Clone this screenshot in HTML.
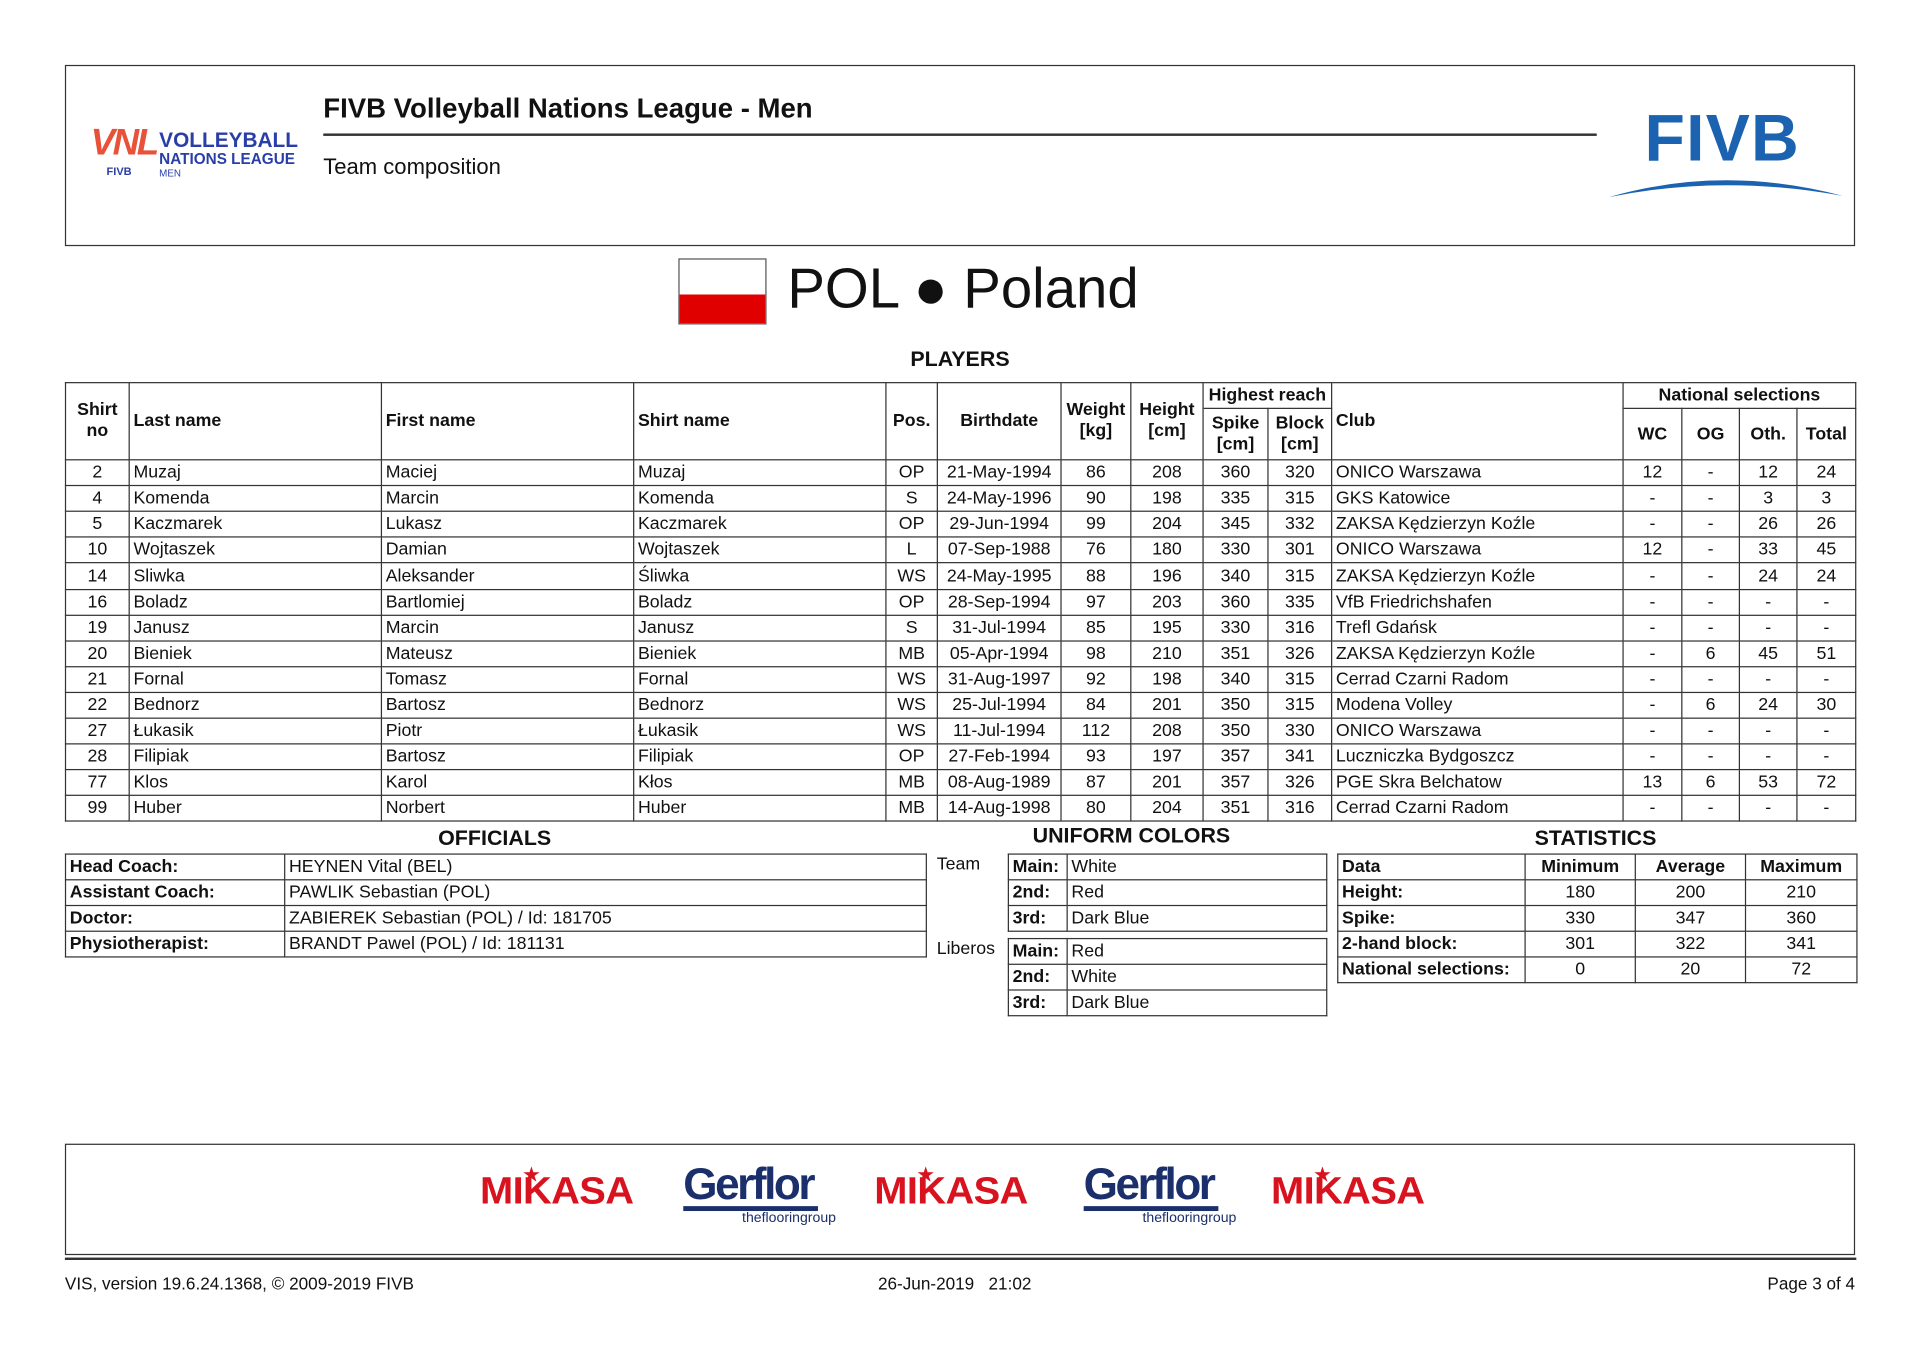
<!DOCTYPE html>
<html><head><meta charset="utf-8">
<style>
html,body{margin:0;padding:0;background:#fff;}
body{width:1920px;height:1357px;overflow:hidden;position:relative;}
#w{position:absolute;left:0;top:0;width:1568px;height:1108px;transform:scale(1.22449);transform-origin:0 0;font-family:"Liberation Sans","Noto Sans CJK SC",sans-serif;color:#111;}
.a{position:absolute;}
table{border-collapse:collapse;position:absolute;table-layout:fixed;font-size:14.5px;}
td{border:1px solid #333;padding:0 3px;height:20.1px;white-space:nowrap;overflow:hidden;line-height:20px;}
.c{text-align:center;} .r{text-align:right;} .b{font-weight:bold;}
.h{font-weight:bold;font-size:17.5px;text-align:center;}
.mk{color:#d8121f;font-weight:900;font-size:31px;font-family:"Liberation Sans",sans-serif;letter-spacing:-0.5px;transform:scaleX(1.05);}
.gf{color:#1a2f6b;font-weight:bold;font-size:36px;letter-spacing:-2px;}
</style></head><body><div id="w">

<div class="a" style="left:53px;top:53px;width:1460px;height:146px;border:1.5px solid #333;"></div>
<div class="a" style="left:74px;top:100px;color:#e8523a;font-weight:bold;font-size:30px;font-style:italic;letter-spacing:-2px;">VNL</div>
<div class="a" style="left:87px;top:135px;color:#2a3ea8;font-weight:bold;font-size:9px;">FIVB</div>
<div class="a" style="left:130px;top:107px;color:#2a3ea8;font-weight:bold;font-size:17px;line-height:16px;">VOLLEYBALL</div>
<div class="a" style="left:130px;top:124px;color:#2a3ea8;font-weight:bold;font-size:12.5px;line-height:13px;">NATIONS LEAGUE</div>
<div class="a" style="left:130px;top:137px;color:#2a3ea8;font-size:8px;">MEN</div>
<div class="a" style="left:264px;top:76px;font-weight:bold;font-size:22.5px;">FIVB Volleyball Nations League - Men</div>
<div class="a" style="left:264px;top:109px;width:1040px;height:1.5px;background:#333;"></div>
<div class="a" style="left:264px;top:126px;font-size:18px;">Team composition</div>
<div class="a" style="left:1343px;top:82px;color:#1b62b0;font-weight:900;font-size:54px;letter-spacing:1px;">FIVB</div>
<svg class="a" style="left:1312px;top:140px;" width="195" height="25"><path d="M2 21 Q95 -6 193 20 Q95 2 2 21Z" fill="#1b62b0"/></svg>

<div class="a" style="left:554px;top:211px;width:70px;height:52px;border:1px solid #555;background:linear-gradient(#fff 0,#fff 55%,#e00000 55%);"></div>
<div class="a" style="left:643px;top:208px;font-size:46px;">POL ● Poland</div>
<div class="a h" style="left:684px;top:283px;width:200px;">PLAYERS</div>

<table style="left:53px;top:312px;width:1463px;">
<colgroup><col style="width:52px"><col style="width:206px"><col style="width:206px"><col style="width:206px"><col style="width:42px"><col style="width:101px"><col style="width:57px"><col style="width:59px"><col style="width:53px"><col style="width:52px"><col style="width:238px"><col style="width:48px"><col style="width:47px"><col style="width:47px"><col style="width:48px"></colgroup>
<tr style="height:21px"><td rowspan="2" class="b c" style="line-height:17px">Shirt<br>no</td><td rowspan="2" class="b">Last name</td><td rowspan="2" class="b">First name</td><td rowspan="2" class="b">Shirt name</td><td rowspan="2" class="b c">Pos.</td><td rowspan="2" class="b c">Birthdate</td><td rowspan="2" class="b c" style="line-height:17px">Weight<br>[kg]</td><td rowspan="2" class="b c" style="line-height:17px">Height<br>[cm]</td><td colspan="2" class="b c">Highest reach</td><td rowspan="2" class="b">Club</td><td colspan="4" class="b c">National selections</td></tr>
<tr style="height:42px"><td class="b c" style="line-height:17px">Spike<br>[cm]</td><td class="b c" style="line-height:17px">Block<br>[cm]</td><td class="b c">WC</td><td class="b c">OG</td><td class="b c">Oth.</td><td class="b c">Total</td></tr>
<tr><td class="c">2</td><td>Muzaj</td><td>Maciej</td><td>Muzaj</td><td class="c">OP</td><td class="c">21-May-1994</td><td class="c">86</td><td class="c">208</td><td class="c">360</td><td class="c">320</td><td>ONICO Warszawa</td><td class="c">12</td><td class="c">-</td><td class="c">12</td><td class="c">24</td></tr>
<tr><td class="c">4</td><td>Komenda</td><td>Marcin</td><td>Komenda</td><td class="c">S</td><td class="c">24-May-1996</td><td class="c">90</td><td class="c">198</td><td class="c">335</td><td class="c">315</td><td>GKS Katowice</td><td class="c">-</td><td class="c">-</td><td class="c">3</td><td class="c">3</td></tr>
<tr><td class="c">5</td><td>Kaczmarek</td><td>Lukasz</td><td>Kaczmarek</td><td class="c">OP</td><td class="c">29-Jun-1994</td><td class="c">99</td><td class="c">204</td><td class="c">345</td><td class="c">332</td><td>ZAKSA Kędzierzyn Koźle</td><td class="c">-</td><td class="c">-</td><td class="c">26</td><td class="c">26</td></tr>
<tr><td class="c">10</td><td>Wojtaszek</td><td>Damian</td><td>Wojtaszek</td><td class="c">L</td><td class="c">07-Sep-1988</td><td class="c">76</td><td class="c">180</td><td class="c">330</td><td class="c">301</td><td>ONICO Warszawa</td><td class="c">12</td><td class="c">-</td><td class="c">33</td><td class="c">45</td></tr>
<tr><td class="c">14</td><td>Sliwka</td><td>Aleksander</td><td>Śliwka</td><td class="c">WS</td><td class="c">24-May-1995</td><td class="c">88</td><td class="c">196</td><td class="c">340</td><td class="c">315</td><td>ZAKSA Kędzierzyn Koźle</td><td class="c">-</td><td class="c">-</td><td class="c">24</td><td class="c">24</td></tr>
<tr><td class="c">16</td><td>Boladz</td><td>Bartlomiej</td><td>Boladz</td><td class="c">OP</td><td class="c">28-Sep-1994</td><td class="c">97</td><td class="c">203</td><td class="c">360</td><td class="c">335</td><td>VfB Friedrichshafen</td><td class="c">-</td><td class="c">-</td><td class="c">-</td><td class="c">-</td></tr>
<tr><td class="c">19</td><td>Janusz</td><td>Marcin</td><td>Janusz</td><td class="c">S</td><td class="c">31-Jul-1994</td><td class="c">85</td><td class="c">195</td><td class="c">330</td><td class="c">316</td><td>Trefl Gdańsk</td><td class="c">-</td><td class="c">-</td><td class="c">-</td><td class="c">-</td></tr>
<tr><td class="c">20</td><td>Bieniek</td><td>Mateusz</td><td>Bieniek</td><td class="c">MB</td><td class="c">05-Apr-1994</td><td class="c">98</td><td class="c">210</td><td class="c">351</td><td class="c">326</td><td>ZAKSA Kędzierzyn Koźle</td><td class="c">-</td><td class="c">6</td><td class="c">45</td><td class="c">51</td></tr>
<tr><td class="c">21</td><td>Fornal</td><td>Tomasz</td><td>Fornal</td><td class="c">WS</td><td class="c">31-Aug-1997</td><td class="c">92</td><td class="c">198</td><td class="c">340</td><td class="c">315</td><td>Cerrad Czarni Radom</td><td class="c">-</td><td class="c">-</td><td class="c">-</td><td class="c">-</td></tr>
<tr><td class="c">22</td><td>Bednorz</td><td>Bartosz</td><td>Bednorz</td><td class="c">WS</td><td class="c">25-Jul-1994</td><td class="c">84</td><td class="c">201</td><td class="c">350</td><td class="c">315</td><td>Modena Volley</td><td class="c">-</td><td class="c">6</td><td class="c">24</td><td class="c">30</td></tr>
<tr><td class="c">27</td><td>Łukasik</td><td>Piotr</td><td>Łukasik</td><td class="c">WS</td><td class="c">11-Jul-1994</td><td class="c">112</td><td class="c">208</td><td class="c">350</td><td class="c">330</td><td>ONICO Warszawa</td><td class="c">-</td><td class="c">-</td><td class="c">-</td><td class="c">-</td></tr>
<tr><td class="c">28</td><td>Filipiak</td><td>Bartosz</td><td>Filipiak</td><td class="c">OP</td><td class="c">27-Feb-1994</td><td class="c">93</td><td class="c">197</td><td class="c">357</td><td class="c">341</td><td>Luczniczka Bydgoszcz</td><td class="c">-</td><td class="c">-</td><td class="c">-</td><td class="c">-</td></tr>
<tr><td class="c">77</td><td>Klos</td><td>Karol</td><td>Kłos</td><td class="c">MB</td><td class="c">08-Aug-1989</td><td class="c">87</td><td class="c">201</td><td class="c">357</td><td class="c">326</td><td>PGE Skra Belchatow</td><td class="c">13</td><td class="c">6</td><td class="c">53</td><td class="c">72</td></tr>
<tr><td class="c">99</td><td>Huber</td><td>Norbert</td><td>Huber</td><td class="c">MB</td><td class="c">14-Aug-1998</td><td class="c">80</td><td class="c">204</td><td class="c">351</td><td class="c">316</td><td>Cerrad Czarni Radom</td><td class="c">-</td><td class="c">-</td><td class="c">-</td><td class="c">-</td></tr>
</table>

<div class="a h" style="left:304px;top:674px;width:200px;">OFFICIALS</div>
<div class="a h" style="left:804px;top:672px;width:240px;">UNIFORM COLORS</div>
<div class="a h" style="left:1203px;top:674px;width:200px;">STATISTICS</div>

<table style="left:53px;top:697px;width:703px;">
<colgroup><col style="width:179px"><col style="width:524px"></colgroup>
<tr><td class="b">Head Coach:</td><td>HEYNEN Vital (BEL)</td></tr>
<tr><td class="b">Assistant Coach:</td><td>PAWLIK Sebastian (POL)</td></tr>
<tr><td class="b">Doctor:</td><td>ZABIEREK Sebastian (POL) / Id: 181705</td></tr>
<tr><td class="b">Physiotherapist:</td><td>BRANDT Pawel (POL) / Id: 181131</td></tr>
</table>

<div class="a" style="left:765px;top:698px;font-size:14.5px;">Team</div>
<div class="a" style="left:765px;top:767px;font-size:14.5px;">Liberos</div>
<table style="left:823px;top:697px;width:260px;">
<colgroup><col style="width:48px"><col style="width:212px"></colgroup>
<tr><td class="b">Main:</td><td>White</td></tr>
<tr><td class="b">2nd:</td><td>Red</td></tr>
<tr><td class="b">3rd:</td><td>Dark Blue</td></tr>
</table>
<table style="left:823px;top:766px;width:260px;">
<colgroup><col style="width:48px"><col style="width:212px"></colgroup>
<tr><td class="b">Main:</td><td>Red</td></tr>
<tr><td class="b">2nd:</td><td>White</td></tr>
<tr><td class="b">3rd:</td><td>Dark Blue</td></tr>
</table>

<table style="left:1092px;top:697px;width:424px;">
<colgroup><col style="width:153px"><col style="width:90px"><col style="width:90px"><col style="width:91px"></colgroup>
<tr><td class="b">Data</td><td class="b c">Minimum</td><td class="b c">Average</td><td class="b c">Maximum</td></tr>
<tr><td class="b">Height:</td><td class="c">180</td><td class="c">200</td><td class="c">210</td></tr>
<tr><td class="b">Spike:</td><td class="c">330</td><td class="c">347</td><td class="c">360</td></tr>
<tr><td class="b">2-hand block:</td><td class="c">301</td><td class="c">322</td><td class="c">341</td></tr>
<tr><td class="b">National selections:</td><td class="c">0</td><td class="c">20</td><td class="c">72</td></tr>
</table>

<div class="a" style="left:53px;top:934px;width:1460px;height:89px;border:1.5px solid #333;"></div>
<div class="a mk" style="left:395px;top:955px;">MIKASA</div>
<div class="a mk" style="left:717px;top:955px;">MIKASA</div>
<div class="a mk" style="left:1041px;top:955px;">MIKASA</div>
<div class="a" style="left:427px;top:949px;color:#d8121f;font-size:14px;">★</div>
<div class="a" style="left:749px;top:949px;color:#d8121f;font-size:14px;">★</div>
<div class="a" style="left:1073px;top:949px;color:#d8121f;font-size:14px;">★</div>
<div class="a gf" style="left:558px;top:946px;">Gerflor</div>
<div class="a" style="left:558px;top:985px;width:110px;height:4px;background:#1a2f6b;"></div>
<div class="a" style="left:606px;top:989px;color:#1a2f6b;font-size:11.5px;">theflooringroup</div>
<div class="a gf" style="left:885px;top:946px;">Gerflor</div>
<div class="a" style="left:885px;top:985px;width:110px;height:4px;background:#1a2f6b;"></div>
<div class="a" style="left:933px;top:989px;color:#1a2f6b;font-size:11.5px;">theflooringroup</div>

<div class="a" style="left:53px;top:1027px;width:1463px;height:1.5px;background:#333;"></div>
<div class="a" style="left:53px;top:1040px;font-size:14px;">VIS, version 19.6.24.1368, © 2009-2019 FIVB</div>
<div class="a" style="left:717px;top:1040px;font-size:14px;">26-Jun-2019&nbsp;&nbsp;&nbsp;21:02</div>
<div class="a" style="left:1415px;top:1040px;width:100px;text-align:right;font-size:14px;">Page 3 of 4</div>
</div></body></html>
